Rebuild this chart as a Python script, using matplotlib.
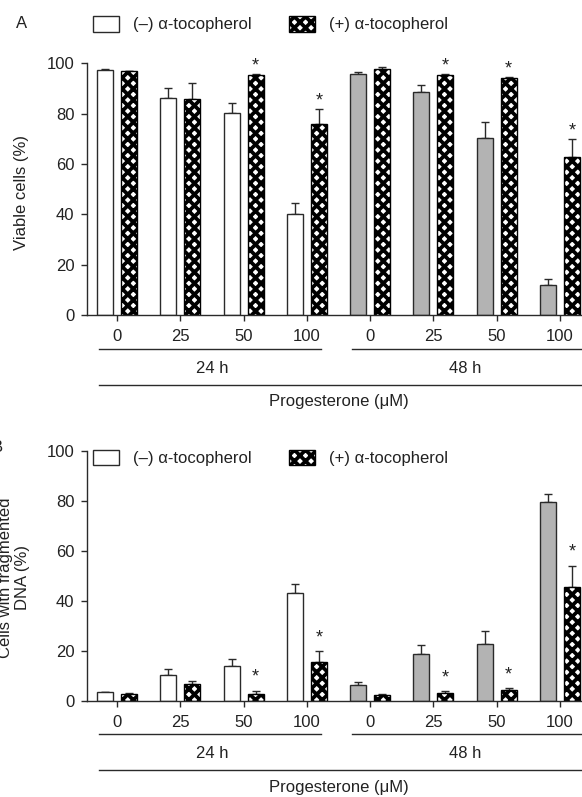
import numpy as np
import matplotlib
matplotlib.use("Agg")
import matplotlib.pyplot as plt
import matplotlib.transforms as mtransforms
from matplotlib.patches import Patch

# ---------------- data ----------------
conc_labels = ['0', '25', '50', '100', '0', '25', '50', '100']
time_labels = ['24 h', '48 h']
xlabel_text = 'Progesterone (\u03bcM)'
legend_labels = ['(\u2013) \u03b1-tocopherol', '(+) \u03b1-tocopherol']

viable_minus = [97.4, 86.1, 80.2, 40.1, 95.9, 88.5, 70.2, 12.2]
viable_minus_err = [0.3, 4.2, 4.2, 4.3, 0.7, 3.0, 6.4, 2.1]
viable_plus = [96.8, 85.7, 95.4, 76.1, 97.8, 95.4, 94.2, 62.7]
viable_plus_err = [0.3, 6.6, 0.5, 5.8, 0.7, 0.2, 0.4, 7.1]
viable_sig = [False, False, True, True, False, True, True, True]

frag_minus = [3.5, 10.1, 14.0, 42.9, 6.1, 18.7, 22.5, 79.3]
frag_minus_err = [0.0, 2.7, 2.8, 3.8, 1.4, 3.6, 5.2, 3.4]
frag_plus = [2.7, 6.8, 2.8, 15.6, 2.3, 3.2, 4.3, 45.3]
frag_plus_err = [0.3, 0.9, 1.1, 4.1, 0.4, 0.5, 0.6, 8.7]
frag_sig = [False, False, True, True, False, True, True, True]

# ---------------- style ----------------
W, H, DPI = 582, 797, 100
FS = 12
FPX = FS / 72 * DPI
TXT = '#222222'
EDGE = '#2a2a2a'
GRAY = '#b3b3b3'
HATCH = 'xxx'
plt.rcParams['font.family'] = ['Liberation Sans', 'DejaVu Sans']
plt.rcParams['hatch.linewidth'] = 2.7
plt.rcParams['text.color'] = TXT
plt.rcParams['axes.edgecolor'] = EDGE
plt.rcParams['xtick.color'] = EDGE
plt.rcParams['ytick.color'] = EDGE
plt.rcParams['xtick.labelcolor'] = TXT
plt.rcParams['ytick.labelcolor'] = TXT

fig = plt.figure(figsize=(W / DPI, H / DPI), dpi=DPI)

def fx(px):
    return px / W

def fy(py):
    return 1 - py / H

x = np.arange(len(conc_labels))
group_px = 63.3
bw = 16 / group_px
off = 12 / group_px
x_left = -30 / group_px
x_right = x[-1] + 22 / group_px
minus_colors = ['white' if i < 4 else GRAY for i in x]


def panel(top_px, bot_px, minus, minus_err, plus, plus_err, sig, star_off_pt):
    ax = fig.add_axes([fx(87), fy(bot_px), 1 - fx(87), (bot_px - top_px) / H])
    ax.bar(x - off, minus, width=bw, color=minus_colors, edgecolor=EDGE,
           linewidth=1.0, zorder=2)
    ax.bar(x + off, plus, width=bw, color='white', edgecolor='black',
           hatch=HATCH, linewidth=1.0, zorder=2)
    ax.errorbar(x - off, minus, yerr=[np.zeros(len(x)), minus_err], fmt='none',
                ecolor=EDGE, elinewidth=1.0, capsize=2.6, capthick=1.0, zorder=1)
    ax.errorbar(x + off, plus, yerr=[np.zeros(len(x)), plus_err], fmt='none',
                ecolor=EDGE, elinewidth=1.0, capsize=2.6, capthick=1.0, zorder=1)
    for xi, yi, ei, s in zip(x, plus, plus_err, sig):
        if s:
            ax.annotate('*', xy=(xi + off, yi + ei), xytext=(0, star_off_pt),
                        textcoords='offset points', ha='center', va='baseline',
                        fontsize=FS + 1, annotation_clip=False)
    ax.set_xlim(x_left, x_right)
    ax.set_ylim(0, 100)
    ax.set_yticks([0, 20, 40, 60, 80, 100])
    ax.set_xticks(x)
    ax.set_xticklabels(conc_labels)
    ax.spines['top'].set_visible(False)
    ax.spines['right'].set_visible(False)
    ax.spines['left'].set_linewidth(1.0)
    ax.spines['bottom'].set_linewidth(1.0)
    ax.tick_params(axis='both', direction='out', length=4.1, width=1.0,
                   labelsize=FS)
    ax.tick_params(axis='y', pad=5.0)
    ax.tick_params(axis='x', pad=6.0)
    ax.patch.set_alpha(0)

    def trans(dy_px):
        return ax.get_xaxis_transform() + mtransforms.ScaledTranslation(
            0, -dy_px / DPI, fig.dpi_scale_trans)

    # group lines and labels
    lx0, lx1 = -0.29, 0.23
    ax.plot([x[0] + lx0, x[3] + lx1], [0, 0], color=EDGE, lw=1.0,
            transform=trans(33.5), clip_on=False)
    ax.plot([x[4] + lx0, x_right + 0.5], [0, 0], color=EDGE, lw=1.0,
            transform=trans(33.5), clip_on=False)
    ax.text(np.mean(x[:4]), 0, time_labels[0], ha='center', va='center',
            fontsize=FS, transform=trans(53))
    ax.text(np.mean(x[4:]), 0, time_labels[1], ha='center', va='center',
            fontsize=FS, transform=trans(53))
    ax.plot([x[0] + lx0, x_right + 0.5], [0, 0], color=EDGE, lw=1.0,
            transform=trans(69.5), clip_on=False)
    ax.text(np.mean(x), 0, xlabel_text, ha='center', va='center',
            fontsize=FS, transform=trans(86.5))
    return ax


axA = panel(63.3, 315.3, viable_minus, viable_minus_err, viable_plus,
            viable_plus_err, viable_sig, 2.5)
axB = panel(450.7, 700.7, frag_minus, frag_minus_err, frag_plus,
            frag_plus_err, frag_sig, 6.8)

# legends
handles = [Patch(facecolor='white', edgecolor=EDGE, linewidth=1.0),
           Patch(facecolor='white', edgecolor='black', hatch=HATCH, linewidth=1.0)]
for ycen in (24, 458):
    fig.legend(handles, legend_labels, loc='center left',
               bbox_to_anchor=(fx(93), fy(ycen)), ncol=2, frameon=False,
               fontsize=FS, handlelength=26 / FPX, handleheight=18 / FPX,
               handletextpad=14 / FPX, columnspacing=37 / FPX, borderpad=0,
               borderaxespad=0)

# panel letters and y labels
fig.text(fx(22), fy(24), 'A', ha='center', va='center', fontsize=FS)
fig.text(fx(3), fy(448), 'B', ha='right', va='center', fontsize=FS)
fig.text(fx(22), fy(192), 'Viable cells (%)', rotation=90, ha='center',
         va='center', fontsize=FS)
fig.text(fx(14), fy(578), 'Cells with fragmented\nDNA (%)', rotation=90,
         ha='center', va='center', fontsize=FS, linespacing=1.1,
         multialignment='center')

fig.savefig('out.png', dpi=DPI)
